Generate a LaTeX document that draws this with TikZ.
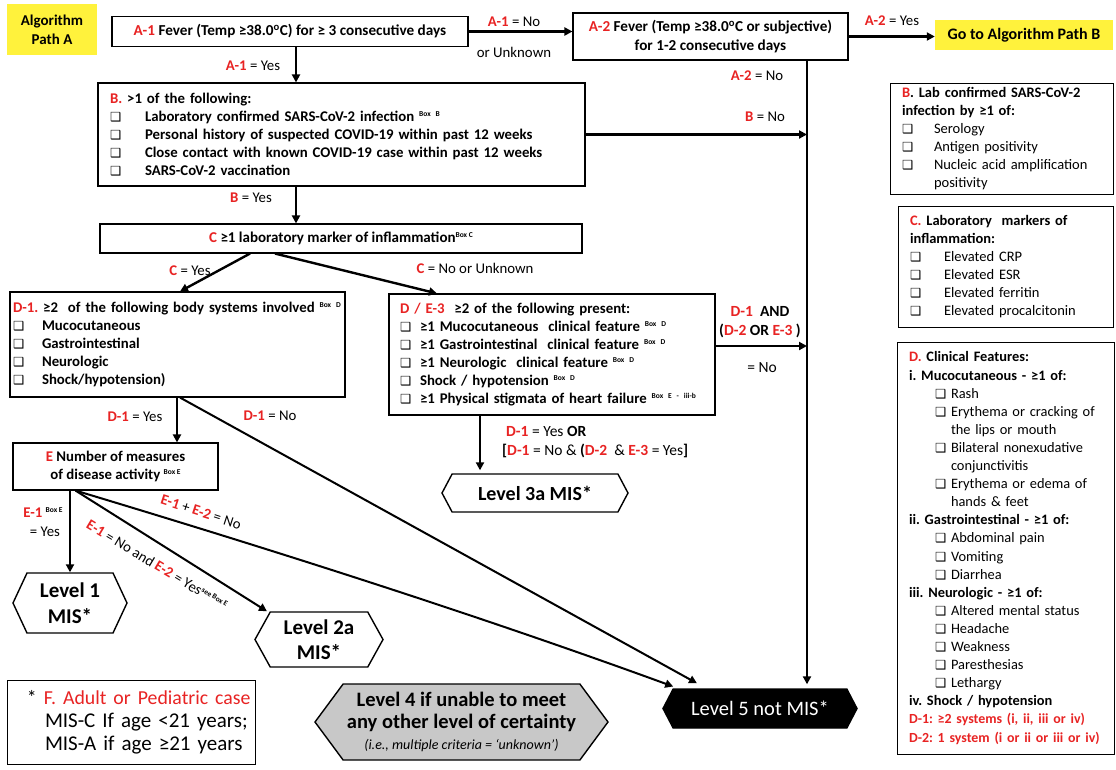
\documentclass[tikz,border=0pt]{standalone}
\usepackage{fontspec}
\setmainfont{Carlito}
\newfontfamily\djv{DejaVu Sans}
\usetikzlibrary{arrows.meta,shapes.symbols,calc}
\definecolor{myred}{RGB}{232,35,35}
\definecolor{myyellow}{RGB}{255,242,60}
\definecolor{mygray}{RGB}{200,200,200}
\newcommand{\rd}[1]{\textcolor{myred}{#1}}
\newcommand{\rb}[1]{\textcolor{myred}{\bfseries #1}}
\newcommand{\cbx}{{\djv\bfseries\fontsize{12.5}{12}\selectfont ❑}}
\newcommand{\bx}[1]{\raisebox{5pt}{\fontsize{7.5}{7}\selectfont #1}}
\newcommand{\fs}{\fontsize{14.8}{18}\selectfont}
\newcommand{\fr}{\fontsize{14.5}{18.1}\selectfont}
\tikzset{
  box/.style={draw, line width=1.1pt, fill=white, inner sep=0pt, font=\bfseries\fs},
  rbox/.style={draw, line width=1pt, fill=white, inner ysep=0pt, inner xsep=12pt, font=\fr, align=left},
  lbl/.style={font=\fontsize{14.8}{17}\selectfont, inner sep=1pt},
  arr/.style={line width=2.4pt, -{Triangle[length=8pt,width=8pt]}},
  thinarr/.style={line width=2pt, -{Triangle[length=8pt,width=8pt]}},
  hex/.style={signal, signal to=west and east, draw, line width=1.4pt, fill=white, inner sep=0pt, align=center},
}
\begin{document}
\frenchspacing
\begin{tikzpicture}[x=1pt,y=-1pt]
\useasboundingbox[fill=white] (0,0) rectangle (1116,769);

% top row
\node[fill=myyellow, minimum width=90pt, minimum height=51pt, align=center,
  font=\bfseries\fontsize{15}{19}\selectfont] (pathA) at (52,29.5) {Algorithm\\Path A};
\node[box, minimum width=356pt, minimum height=30pt, font=\bfseries\fontsize{15.2}{18}\selectfont] (a1) at (290,31.5)
  {\rd{A-1} Fever (Temp ≥38.0\textsuperscript{o}C) for ≥ 3 consecutive days};
\node[box, minimum width=275pt, minimum height=47pt, align=center, font=\bfseries\fontsize{15.2}{19}\selectfont] (a2) at (710.5,36.5)
  {\rd{A-2} Fever (Temp ≥38.0\textsuperscript{o}C or subjective)\\for 1-2 consecutive days};
\node[fill=myyellow, minimum width=178pt, minimum height=30pt,
  font=\bfseries\fontsize{16}{18}\selectfont] (goB) at (1024,35) {Go to Algorithm Path B};

% B box
\node[box, minimum width=487pt, minimum height=103pt, text width=463pt, inner xsep=12pt, align=left] (b) at (341.5,134.5)
  {\rd{B.} >1 of the following:\\
   \makebox[35pt][l]{\cbx}Laboratory confirmed SARS-CoV-2 infection \bx{Box B}\\
   \makebox[35pt][l]{\cbx}Personal history of suspected COVID-19 within past 12 weeks\\
   \makebox[35pt][l]{\cbx}Close contact with known COVID-19 case within past 12 weeks\\
   \makebox[35pt][l]{\cbx}SARS-CoV-2 vaccination};

% C box
\node[box, minimum width=482pt, minimum height=29pt, font=\bfseries\fontsize{15}{18}\selectfont] (c) at (341,238.5)
  {\rd{C} ≥1 laboratory marker of inflammation\bx{Box C}};

% D-1 box
\node[box, minimum width=335pt, minimum height=105pt, text width=329pt, inner xsep=3pt, align=left] (d1) at (177.5,344.5)
  {\rd{D-1.} ≥2~ of the following body systems involved \bx{Box D}\\
   \makebox[29pt][l]{\cbx}Mucocutaneous\\
   \makebox[29pt][l]{\cbx}Gastrointestinal\\
   \makebox[29pt][l]{\cbx}Neurologic\\
   \makebox[29pt][l]{\cbx}Shock/hypotension)};

% D/E-3 box
\node[box, minimum width=326pt, minimum height=121pt, text width=304pt, inner xsep=11pt, align=left] (de3) at (552,354.5)
  {\rd{D / E-3}~ ≥2 of the following present:\\
   \makebox[20pt][l]{\cbx}≥1 Mucocutaneous~ clinical feature \bx{Box D}\\
   \makebox[20pt][l]{\cbx}≥1 Gastrointestinal~ clinical feature \bx{Box D}\\
   \makebox[20pt][l]{\cbx}≥1 Neurologic~ clinical feature \bx{Box D}\\
   \makebox[20pt][l]{\cbx}Shock / hypotension \bx{Box D}\\
   \makebox[20pt][l]{\cbx}≥1 Physical stigmata of heart failure \bx{Box E - iii-b}};

% E box
\node[box, minimum width=205pt, minimum height=47pt, align=center] (e) at (115.5,466.5)
  {\rd{E} Number of measures\\of disease activity \bx{Box E}};

% Levels
\node[hex, minimum width=114pt, minimum height=60pt, signal pointer angle=130,
  font=\bfseries\fontsize{21}{26}\selectfont] (lv1) at (70,603) {Level 1\\MIS*};
\node[hex, minimum width=128pt, minimum height=55pt, signal pointer angle=122,
  font=\bfseries\fontsize{21}{25}\selectfont] (lv2a) at (319,639.5) {Level 2a\\MIS*};
\node[hex, minimum width=186pt, minimum height=38pt, signal pointer angle=124,
  font=\bfseries\fontsize{20}{22}\selectfont] (lv3a) at (535,493) {Level 3a MIS*};
\node[hex, fill=mygray, minimum width=293pt, minimum height=76pt, signal pointer angle=107,
  font=\bfseries\fontsize{20.5}{21.5}\selectfont] (lv4) at (461.5,722)
  {Level 4 if unable to meet\\any other level of certainty\\
   {\mdseries\itshape\fontsize{14}{21.5}\selectfont (i.e., multiple criteria = ‘unknown’)}};
\node[hex, fill=black, minimum width=194pt, minimum height=39pt, signal pointer angle=125,
  text=white, font=\fontsize{20.5}{21}\selectfont] (lv5) at (760,708.5) {Level 5 not MIS*};

% F box
\node[draw, line width=1pt, minimum width=248pt, minimum height=84pt, inner sep=0pt,
  text width=240pt, align=left, font=\fontsize{21}{23}\selectfont] (fbox) at (131,722)
  {\hspace*{16pt}\mbox{\fontsize{19.8}{23}\selectfont * \rd{F. Adult or Pediatric case}}\\
   \hspace*{34pt}MIS-C If age <21 years;\\
   \hspace*{34pt}MIS-A if age ≥21 years};

% right side boxes
\node[rbox, minimum width=223pt, minimum height=111pt, text width=199pt] (rB) at (1001.5,138.5)
  {\textbf{\rd{B}. Lab confirmed SARS-CoV-2}\\
   \textbf{infection by ≥1 of:}\\
   \makebox[32pt][l]{\cbx}Serology\\
   \makebox[32pt][l]{\cbx}Antigen positivity\\
   \makebox[32pt][l]{\cbx}Nucleic acid amplification\\
   \hspace*{32pt}positivity};
\node[rbox, minimum width=215pt, minimum height=121pt, text width=191pt] (rC) at (1005.5,266.5)
  {\textbf{\rd{C.} Laboratory~ markers of}\\
   \textbf{inflammation:}\\
   \makebox[34pt][l]{\cbx}Elevated CRP\\
   \makebox[34pt][l]{\cbx}Elevated ESR\\
   \makebox[34pt][l]{\cbx}Elevated ferritin\\
   \makebox[34pt][l]{\cbx}Elevated procalcitonin};
\node[rbox, minimum width=217pt, minimum height=412pt, text width=193pt,
  font=\fontsize{14.4}{18.1}\selectfont] (rD) at (1005.5,548)
  {\textbf{\rd{D.} Clinical Features:}\\
   \textbf{i. Mucocutaneous - ≥1 of:}\\
   \hspace*{26pt}\makebox[16pt][l]{\cbx}Rash\\
   \hspace*{26pt}\makebox[16pt][l]{\cbx}Erythema or cracking of\\
   \hspace*{42pt}the lips or mouth\\
   \hspace*{26pt}\makebox[16pt][l]{\cbx}Bilateral nonexudative\\
   \hspace*{42pt}conjunctivitis\\
   \hspace*{26pt}\makebox[16pt][l]{\cbx}Erythema or edema of\\
   \hspace*{42pt}hands \& feet\\
   \textbf{ii. Gastrointestinal - ≥1 of:}\\
   \hspace*{26pt}\makebox[16pt][l]{\cbx}Abdominal pain\\
   \hspace*{26pt}\makebox[16pt][l]{\cbx}Vomiting\\
   \hspace*{26pt}\makebox[16pt][l]{\cbx}Diarrhea\\
   \textbf{iii. Neurologic - ≥1 of:}\\
   \hspace*{26pt}\makebox[16pt][l]{\cbx}Altered mental status\\
   \hspace*{26pt}\makebox[16pt][l]{\cbx}Headache\\
   \hspace*{26pt}\makebox[16pt][l]{\cbx}Weakness\\
   \hspace*{26pt}\makebox[16pt][l]{\cbx}Paresthesias\\
   \hspace*{26pt}\makebox[16pt][l]{\cbx}Lethargy\\
   \textbf{iv. Shock / hypotension}\\
   \mbox{\fontsize{13.9}{18.1}\selectfont\bfseries\rd{D-1: ≥2 systems (i, ii, iii or iv)}}\\
   \mbox{\fontsize{13.9}{18.1}\selectfont\bfseries\rd{D-2: 1 system (i or ii or iii or iv)}}};

% helper coordinates
\coordinate (vA) at (296,0);
\coordinate (vx) at (807,0);
\coordinate (vE) at (177,0);
\coordinate (vD) at (480,0);

% connectors
\draw[arr] (a1.east) -- (a1.east -| a2.west);
\draw[arr] (a2.east) -- (a2.east -| goB.west);
\draw[arr] (a1.south -| vA) -- (b.north -| vA);
\draw[arr, shorten >=4pt] (a2.south -| vx) -- (lv5.north -| vx);
\draw[arr] (b.east) -- (b.east -| vx);
\draw[arr] (b.south -| vA) -- (c.north -| vA);
\draw[arr] ($(c.south)+(-91,0)$) -- ($(d1.north)+(2.5,0)$);
\draw[arr] ($(c.south)+(-66,0)$) -- ($(de3.north)+(-115,0)$);
\draw[arr] ($(de3.east)+(0,-8.5)$) -- ($(de3.east -| vx)+(0,-8.5)$);
\draw[arr, shorten >=3pt] (de3.south -| vD) -- (lv3a.north -| vD);
\draw[arr] (d1.south -| vE) -- (e.north -| vE);
\draw[thinarr] ($(d1.south)+(2.5,0)$) -- ($(lv5.north)+(-63,-5)$);
\draw[thinarr] ($(e.south)+(-40,0)$) .. controls (280,552) and (480,616) .. ($(lv5.west)+(11,-22)$);
\draw[arr] (lv1.north |- e.south) -- (lv1.north);
\draw[thinarr] ($(e.south)+(-40,0)$) -- ($(lv2a.north)+(-52,0)$);

% labels
\node[lbl] (l1) at (514,22) {\rb{A-1} = No};
\node[lbl] (l2) at (514,52) {or Unknown};
\node[lbl] (l3) at (892,21) {\rb{A-2} = Yes};
\node[lbl] (l4) at (253,66) {\rb{A-1} = Yes};
\node[lbl] (l5) at (757,76) {\rb{A-2} = No};
\node[lbl] (l6) at (765,117) {\rb{B} = No};
\node[lbl] (l7) at (251,198) {\rb{B} = Yes};
\node[lbl] (l8) at (190,271) {\rb{C} = Yes};
\node[lbl] (l9) at (475,268) {\rb{C} = No or Unknown};
\node[lbl, align=center, font=\bfseries\fontsize{15.5}{19}\selectfont] (l10) at (760,322)
  {\rd{D-1}~ AND\\(\rd{D-2} OR \rd{E-3} )};
\node[lbl, font=\fontsize{15.5}{17}\selectfont] (l11) at (762,368) {= No};
\node[lbl] (l12) at (135,417) {\rb{D-1} = Yes};
\node[lbl] (l13) at (270,416) {\rb{D-1} = No};
\node[lbl, anchor=west, align=left, font=\fontsize{15.5}{19.5}\selectfont] (l14) at (501,442)
  {\hspace*{4pt}\rb{D-1} = Yes \textbf{OR}\\
   \textbf{[}\rb{D-1} = No \& \textbf{(}\rb{D-2}~ \& \rb{E-3} = Yes\textbf{]}};
\node[lbl] (l15) at (43,513) {\rb{E-1} \bx{\bfseries Box E}};
\node[lbl] (l16) at (45,532) {= Yes};
\node[lbl, rotate=-31] (l17) at (157,565) {\rb{E-1} = No and \rb{E-2} = Yes\bx{\bfseries see Box E}};
\node[lbl, rotate=-18] (l18) at (201,512) {\rb{E-1} + \rb{E-2} = No};
\end{tikzpicture}
\end{document}
